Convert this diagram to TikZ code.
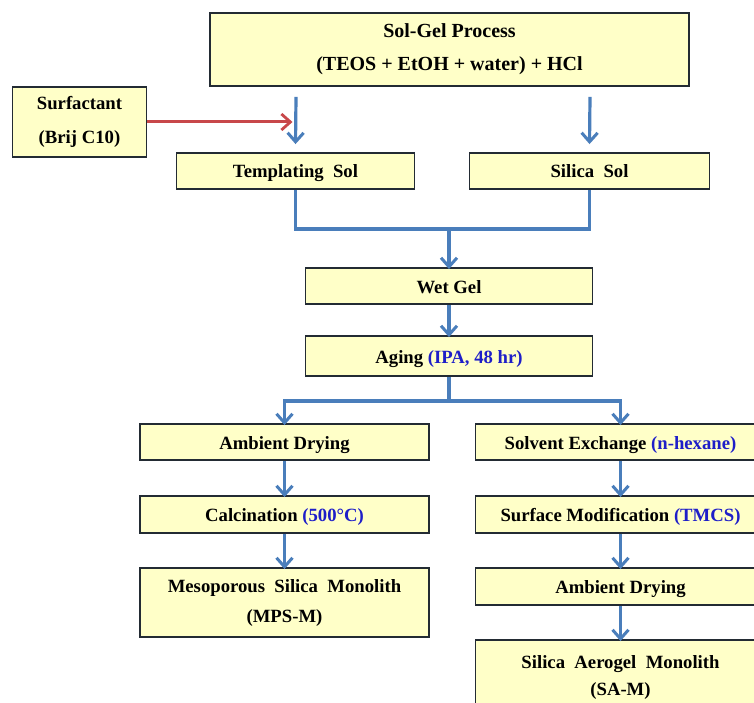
\documentclass[tikz,border=0pt]{standalone}
\usepackage{fontspec}
\setmainfont{Liberation Serif}
\usetikzlibrary{arrows.meta}
\definecolor{boxfill}{HTML}{FFFFC8}
\definecolor{boxline}{HTML}{232B33}
\definecolor{flowblue}{HTML}{4A7EBB}
\definecolor{flowred}{HTML}{C8474A}
\definecolor{notetext}{HTML}{1E1EC8}
\tikzset{
  stepbox/.style={draw=boxline, line width=1.9pt, fill=boxfill, align=center,
    inner sep=0pt, font=\bfseries\fontsize{18.7}{21}\selectfont},
  linebox/.style={stepbox, text height=17pt, text depth=3pt},
  bigbox/.style={stepbox, font=\bfseries\fontsize{20}{22}\selectfont},
  flow/.style={draw=flowblue, line width=3.2pt,
    -{Straight Barb[length=9pt,width=16pt,line width=3pt]}},
  link/.style={draw=flowblue, line width=3.2pt},
  addflow/.style={draw=flowred, line width=3pt,
    -{Straight Barb[length=9pt,width=16pt,line width=2.8pt]}},
  note/.style={text=notetext}
}
\begin{document}
\begin{tikzpicture}[x=1pt, y=-1pt]
    \clip (0,0) rectangle (754,703);
    \fill[white] (0,0) rectangle (754,703);
    %------------Cajas superiores----------
    \node[bigbox, minimum width=479, minimum height=73] (solgel) at (449.5,49.5)
        {Sol-Gel Process\\[11pt](TEOS + EtOH + water) + HCl};
    \node[stepbox, minimum width=134, minimum height=70] (surf) at (79.5,122)
        {Surfactant\\[13pt](Brij C10)};
    \node[linebox, minimum width=238, minimum height=36] (tsol) at (295.5,171) {Templating~~Sol};
    \node[linebox, minimum width=240, minimum height=36] (ssol) at (589.5,171) {Silica~~Sol};
    %------------Cajas centrales-----------
    \node[linebox, minimum width=287, minimum height=36] (wgel) at (449,286) {Wet Gel};
    \node[linebox, minimum width=287, minimum height=40] (aging) at (449,356)
        {Aging \textcolor{notetext}{(IPA, 48 hr)}};
    %------------Columna izquierda---------
    \node[linebox, minimum width=289, minimum height=36] (adryl) at (284.5,442) {Ambient Drying};
    \node[linebox, minimum width=289, minimum height=37] (calc) at (284.5,514.5)
        {Calcination \textcolor{notetext}{(500\textdegree C)}};
    \node[stepbox, minimum width=289, minimum height=69] (mps) at (284.5,602.5)
        {Mesoporous~~Silica~~Monolith\\[9pt](MPS-M)};
    %------------Columna derecha-----------
    \node[linebox, minimum width=290, minimum height=36] (solv) at (620.5,442)
        {Solvent Exchange \textcolor{notetext}{(n-hexane)}};
    \node[linebox, minimum width=290, minimum height=37] (surfmod) at (620.5,514.5)
        {Surface Modification \textcolor{notetext}{(TMCS)}};
    \node[linebox, minimum width=290, minimum height=37] (adryr) at (620.5,586.5) {Ambient Drying};
    \node[stepbox, minimum width=290, minimum height=74] (sam) at (620.5,677)
        {Silica~~Aerogel~~Monolith\\[6pt](SA-M)};
    %------------Puntos de union-----------
    \coordinate (solgelL) at ([xshift=-153.5pt, yshift=-10pt]solgel.south);
    \coordinate (solgelR) at ([xshift=140.5pt, yshift=-10pt]solgel.south);
    \coordinate (tsolin) at ([yshift=8pt]tsol.north);
    \coordinate (ssolin) at ([yshift=8pt]ssol.north);
    \coordinate (joinL) at (295.5,229);
    \coordinate (joinR) at (589.5,229);
    \coordinate (joinC) at (449,229);
    \coordinate (splitC) at (449,401);
    \coordinate (splitL) at (284.5,401);
    \coordinate (splitR) at (620.5,401);
    %------------Flechas-------------------
    \draw[flow] (solgelL) -- (tsolin);
    \draw[flow] (solgelR) -- (ssolin);
    \draw[addflow] (surf.east) -- ([xshift=-3pt]tsolin |- surf.east);
    \draw[link] (tsol.south) -- (joinL) -- (joinR) -- (ssol.south);
    \draw[flow] (joinC) -- ([yshift=-2pt]wgel.north);
    \draw[flow] (wgel) -- ([yshift=-2pt]aging.north);
    \draw[link] (aging.south) -- (splitC);
    \draw[flow] (splitC) -- (splitL) -- ([yshift=-2pt]adryl.north);
    \draw[flow] (splitC) -- (splitR) -- ([yshift=-2pt]solv.north);
    \draw[flow] (adryl) -- ([yshift=-2pt]calc.north);
    \draw[flow] (calc) -- ([yshift=-2pt]mps.north);
    \draw[flow] (solv) -- ([yshift=-2pt]surfmod.north);
    \draw[flow] (surfmod) -- ([yshift=-2pt]adryr.north);
    \draw[flow] (adryr) -- ([yshift=-2pt]sam.north);
\end{tikzpicture}
\end{document}
